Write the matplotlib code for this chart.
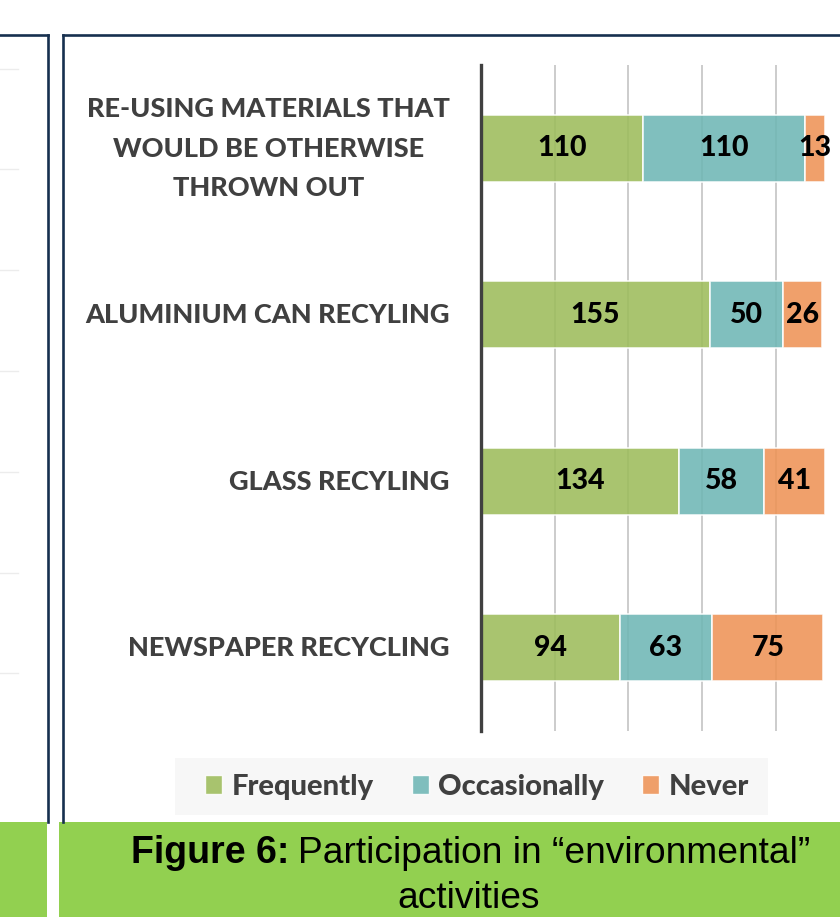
import matplotlib.pyplot as plt
from matplotlib.lines import Line2D
from matplotlib.patches import Rectangle, Patch

# survey data
activities = ["RE-USING MATERIALS THAT\nWOULD BE OTHERWISE\nTHROWN OUT",
              "ALUMINIUM CAN RECYLING",
              "GLASS RECYLING",
              "NEWSPAPER RECYCLING"]
frequently = [110, 155, 134, 94]
occasionally = [110, 50, 58, 63]
never = [13, 26, 41, 75]
series_names = ["Frequently", "Occasionally", "Never"]
series_colors = ["#9dbc5b", "#6fb7b5", "#ee9356"]

W, H = 840, 917
fig = plt.figure(figsize=(W / 100, H / 100), dpi=100)

def fx(px):
    return px / W

def fy(py):
    return 1 - py / H

label_font = "Lato"
heavy = "black"
text_grey = "#404040"
navy = "#17304f"

# panel borders
for xs, ys in [([0, 48], [35, 35]), ([47.5, 47.5], [35, 822]),
               ([63, 840], [35, 35]), ([63, 63], [35, 822])]:
    fig.add_artist(Line2D([fx(x) for x in xs], [fy(y) for y in ys],
                          color=navy, lw=1.9))

# faint gridlines of the neighbouring panel
for gy in [69, 169, 270, 371, 472, 573, 673]:
    fig.add_artist(Line2D([0, fx(18)], [fy(gy), fy(gy)], color="#ececec", lw=1))

# caption band
fig.add_artist(Rectangle((0, 0), fx(47), fy(822), color="#92d050", lw=0))
fig.add_artist(Rectangle((fx(59), 0), 1 - fx(59), fy(822), color="#92d050", lw=0))

ax = fig.add_axes([fx(481), fy(731), 1 - fx(481), fy(65) - fy(731)])
ypos = list(range(len(activities)))[::-1]

left = [0] * len(activities)
for name, vals, col in zip(series_names, [frequently, occasionally, never], series_colors):
    bars = ax.barh(ypos, vals, left=left, height=0.4, color=col, alpha=0.88,
                   edgecolor="white", linewidth=1.2, zorder=2, label=name)
    ax.bar_label(bars, labels=[str(v) for v in vals], label_type="center",
                 fontsize=20.5, fontweight=heavy, family=label_font, color="black")
    left = [a + b for a, b in zip(left, vals)]

ax.set_xlim(0, 243.5)
ax.set_ylim(-0.5, len(activities) - 0.5)
ax.set_xticks([50, 100, 150, 200])
ax.set_yticks([])
ax.tick_params(axis="x", length=0, labelbottom=False)
ax.grid(axis="x", color="#c4c4c4", lw=1.2, zorder=0)
ax.set_axisbelow(True)
for s in ["top", "right", "bottom"]:
    ax.spines[s].set_visible(False)
ax.spines["left"].set_color(text_grey)
ax.spines["left"].set_linewidth(2.4)

# category names, right-aligned left of the axis
for y, name in zip(ypos, activities):
    ax.annotate(name, xy=(0, y), xycoords=ax.get_yaxis_transform(),
                xytext=(-22.5, -0.3), textcoords="offset points",
                ha="right", va="center", multialignment="center",
                fontsize=19.5, fontweight=heavy, family=label_font,
                color=text_grey, linespacing=1.76)

# legend
fig.add_artist(Rectangle((fx(175), fy(815)), fx(768) - fx(175), fy(758) - fy(815),
                         color="#f7f7f7", lw=0))
handles = [Patch(facecolor=c, alpha=0.88, edgecolor="white") for c in series_colors]
leg = fig.legend(handles, series_names, loc="center", bbox_to_anchor=(fx(477), fy(787)),
                 ncol=3, frameon=False, handlelength=0.58, handleheight=0.6,
                 handletextpad=0.34, columnspacing=1.3,
                 prop={"family": label_font, "weight": heavy, "size": 21})
for t in leg.get_texts():
    t.set_color(text_grey)

# caption
fig.text(fx(131), fy(863), "Figure 6:", fontsize=27, fontweight="bold",
         family="Liberation Sans", va="baseline", ha="left")
fig.text(fx(298), fy(863), "Participation in \u201cenvironmental\u201d", fontsize=26.7,
         family="Liberation Sans", va="baseline", ha="left")
fig.text(fx(469), fy(908), "activities", fontsize=26.7, family="Liberation Sans",
         va="baseline", ha="center")

fig.savefig("out.png", dpi=100)
